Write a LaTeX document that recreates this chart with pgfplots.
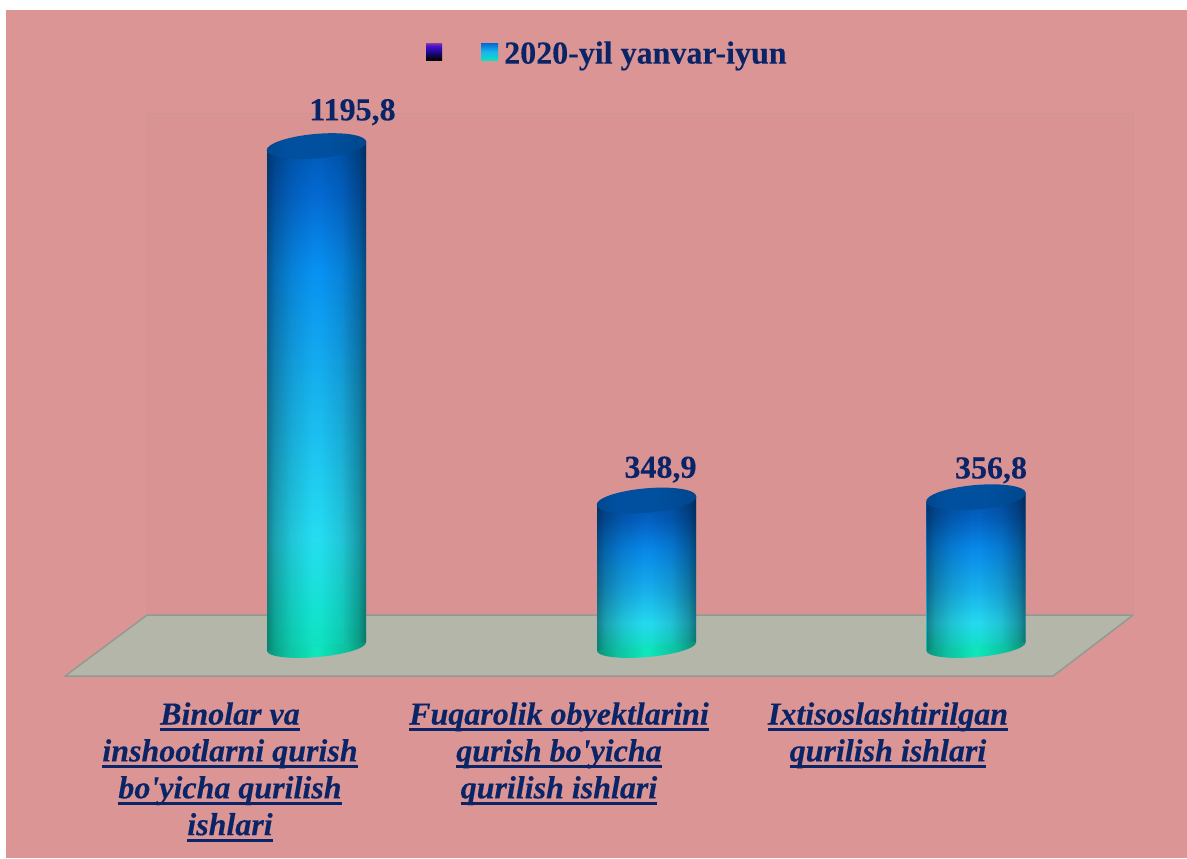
\documentclass[border=0pt]{standalone}
\usepackage{pgfplots}
\pgfplotsset{compat=1.18}
\usepackage{fontspec}
\usetikzlibrary{fadings,shapes.geometric}
\setmainfont{Liberation Serif}
\newfontfamily\lib{Liberation Serif}[BoldFeatures={FakeBold=0.25},BoldItalicFeatures={FakeBold=0.25}]
\definecolor{navy}{HTML}{0A2468}
\definecolor{bgp}{HTML}{DA9594}
\definecolor{wallc}{HTML}{D99392}
\definecolor{floorc}{HTML}{B3B6A8}
\definecolor{floore}{HTML}{8F9A92}
\definecolor{walle}{HTML}{CF9496}
\newcommand\ul[1]{\setbox0\hbox{#1}\rlap{\rule[-6.5pt]{\wd0}{2.9pt}}\box0}
% gradients (TikZ maps the stops 25bp..75bp onto the path's box)
\definecolor{HTMLa}{HTML}{0FE0BC}\definecolor{HTMLb}{HTML}{12E2CC}\definecolor{HTMLc}{HTML}{25DCF0}
\definecolor{HTMLd}{HTML}{18B4EE}\definecolor{HTMLe}{HTML}{0890F0}\definecolor{HTMLf}{HTML}{0468D0}
\definecolor{HTMLg}{HTML}{0058B4}
\pgfdeclareverticalshading{cyltall}{100bp}{
 color(0bp)=(HTMLa); color(25bp)=(HTMLa); color(28bp)=(HTMLb); color(36bp)=(HTMLc); color(50bp)=(HTMLd);
 color(62.5bp)=(HTMLe); color(70bp)=(HTMLf); color(75bp)=(HTMLg); color(100bp)=(HTMLg)}
\definecolor{HTMLs}{HTML}{25D8EE}\definecolor{HTMLt}{HTML}{18B0EA}\definecolor{HTMLu}{HTML}{0888E8}
\definecolor{HTMLv}{HTML}{0460C0}\definecolor{HTMLw}{HTML}{0450A8}
\pgfdeclareverticalshading{cylshort}{100bp}{
 color(0bp)=(HTMLa); color(25bp)=(HTMLa); color(34bp)=(HTMLs); color(44bp)=(HTMLt); color(57.5bp)=(HTMLu);
 color(67.5bp)=(HTMLv); color(75bp)=(HTMLw); color(100bp)=(HTMLw)}
\definecolor{capa}{HTML}{00478F}\definecolor{capb}{HTML}{00509F}\definecolor{capc}{HTML}{00468C}
\pgfdeclarehorizontalshading{capshade}{100bp}{
 color(0bp)=(capa); color(25bp)=(capa); color(35bp)=(capb); color(55bp)=(capb); color(75bp)=(capc); color(100bp)=(capc)}
\definecolor{basa}{HTML}{0A8F7A}\definecolor{basb}{HTML}{0CC0A0}\definecolor{basc}{HTML}{0EE8BC}\definecolor{basd}{HTML}{0A8A74}
\pgfdeclarehorizontalshading{baseshade}{100bp}{
 color(0bp)=(basa); color(25bp)=(basa); color(35bp)=(basb); color(50bp)=(basc); color(65bp)=(basb); color(75bp)=(basd); color(100bp)=(basd)}
% edge darkening of the cylinder wall
\pgfdeclarehorizontalshading{edgeshade}{100bp}{
 color(0bp)=(black!58); color(25bp)=(black!58); color(29bp)=(black!74); color(37.5bp)=(black!90); color(47.5bp)=(black);
 color(52.5bp)=(black); color(62.5bp)=(black!90); color(71bp)=(black!70); color(75bp)=(black!52); color(100bp)=(black!52)}
\pgfdeclarefading{cylfade}{\pgfuseshading{edgeshade}}
\definecolor{swb}{HTML}{1E0A90}\definecolor{swc}{HTML}{4A10D0}\definecolor{swd}{HTML}{8A3AA0}
\pgfdeclareverticalshading{swatcha}{100bp}{color(0bp)=(black); color(25bp)=(black); color(50bp)=(swb); color(67bp)=(swc); color(75bp)=(swd); color(100bp)=(swd)}
\pgfdeclareverticalshading{swatchb}{100bp}{color(0bp)=(HTMLa); color(25bp)=(HTMLa); color(50bp)=(HTMLd); color(75bp)=(HTMLf); color(100bp)=(HTMLf)}
\pgfplotsset{
 caplabel/.style n args={2}{only marks,mark=none,nodes near coords,
   every node near coord/.append style={anchor=center,xshift=#1,yshift=#2,text=navy,
     font=\lib\bfseries\fontsize{32}{34}\selectfont,
     /pgf/number format/.cd,fixed,fixed zerofill,precision=1,use comma,1000 sep={},assume math mode=true}},
 capnode/.style n args={3}{only marks,mark=none,nodes near coords={},
   every node near coord/.append style={shape=ellipse,anchor=center,shade,shading=#1,rotate=5,
     minimum width=#2,minimum height=#3,inner sep=0pt,outer sep=0pt,draw=none}},
 barbody/.style n args={2}{ybar,bar width=99pt,bar shift=0pt,draw=none,shade,shading=#1,yshift=-#2*0.085pt,yslant=0.085},
 bardark/.style={ybar,bar width=99pt,bar shift=0pt,draw=none,fill=black,path fading=cylfade,yshift=-#1*0.085pt,yslant=0.085},
 frame/.style={at={(0pt,0pt)},anchor=south west,
  scale only axis,width=1187pt,height=858pt,
  xmin=0,xmax=1187,ymin=-505.4,ymax=1544.8,clip=false},
}
\begin{document}
\begin{tikzpicture}
\begin{scope}[x=1pt,y=-1pt,yshift=858pt]
 \fill[white] (0,0) rectangle (1187,858);
 \fill[bgp] (6,10) rectangle (1187,858);
 \filldraw[fill=wallc,draw=walle,line width=0.7pt] (147,113) rectangle (1133,615);
 \filldraw[fill=floorc,draw=floore,line width=1.4pt,line join=round] (147,615) -- (1133,615) -- (1053,676) -- (65,676) -- cycle;
 \shade[shading=swatcha] (426,43) rectangle (442,60);
 \shade[shading=swatchb] (481,43) rectangle (498,60);
 \node[anchor=base west,inner sep=0pt,text=navy,font=\lib\bfseries\fontsize{32}{34}\selectfont] at (504,63.5) {2020-yil yanvar-iyun};
\end{scope}
% lower ends of the cylinders, under the bodies
\begin{axis}[frame,hide axis]
\addplot[capnode={baseshade}{99.4pt}{21pt}] coordinates {(316.5,0) (646.5,0) (976,0)};
\end{axis}
\begin{axis}[frame,
  axis line style={draw=none},
  ytick=\empty,xtick={230,559,888},major tick length=0pt,
  xticklabels={
   {\ul{Binolar va}\\\ul{inshootlarni qurish}\\\ul{bo'yicha qurilish}\\\ul{ishlari}},
   {\ul{Fuqarolik obyektlarini}\\\ul{qurish bo'yicha}\\\ul{qurilish ishlari}},
   {\ul{Ixtisoslashtirilgan}\\\ul{qurilish ishlari}}},
  xticklabel style={align=center,anchor=north,yshift=156pt,text=navy,inner sep=0pt,
    font=\lib\bfseries\itshape\fontsize{32}{36.9}\selectfont},
]
% bodies
\addplot[barbody={cyltall}{316.5}] coordinates {(316.5,1195.8)};
\addplot[bardark=316.5] coordinates {(316.5,1195.8)};
\addplot[barbody={cylshort}{646.5}] coordinates {(646.5,348.9)};
\addplot[bardark=646.5] coordinates {(646.5,348.9)};
\addplot[barbody={cylshort}{976}] coordinates {(976,356.8)};
\addplot[bardark=976] coordinates {(976,356.8)};
% caps
\addplot[capnode={capshade}{100pt}{24.5pt}] coordinates {(316.5,1195.8) (646.5,348.9) (976,356.8)};
% value labels
\addplot[caplabel={36pt}{34pt}] coordinates {(316.5,1195.8)};
\addplot[caplabel={14pt}{31pt}] coordinates {(646.5,348.9)};
\addplot[caplabel={15pt}{27pt}] coordinates {(976,356.8)};
\end{axis}
\end{tikzpicture}
\end{document}
